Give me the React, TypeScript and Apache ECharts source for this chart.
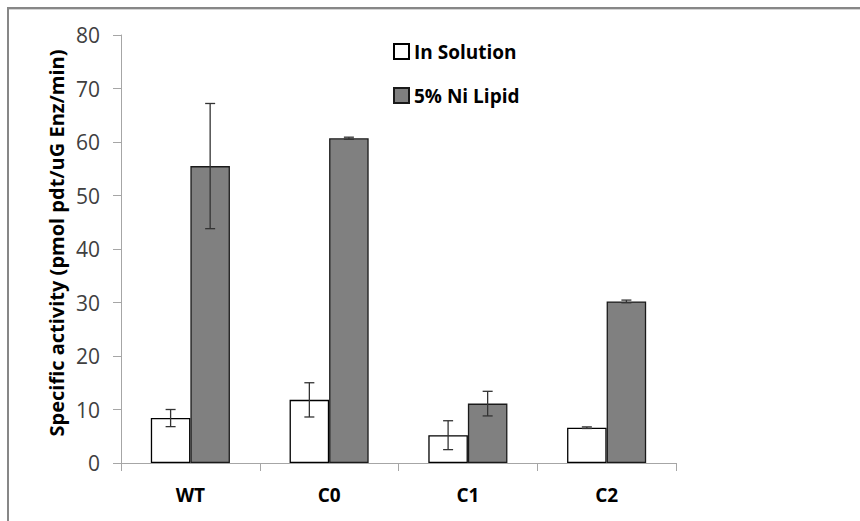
import React, { useEffect, useRef } from "react";
import * as echarts from "echarts";

const categories = ["WT", "C0", "C1", "C2"];
const inSolution = [8.4, 11.8, 5.2, 6.6];
const inSolutionErr = [1.6, 3.2, 2.7, 0.15];
const niLipid = [55.5, 60.7, 11.1, 30.2];
const niLipidErr = [11.7, 0.2, 2.3, 0.25];
const seriesNames = ["In Solution", "5% Ni Lipid"];
const yAxisTitle = "Specific activity (pmol pdt/uG Enz/min)";

const FONT = "'Open Sans', 'Noto Sans', sans-serif";
const CAT_GAP = 0.43;

export default function App() {
  const ref = useRef<HTMLDivElement>(null);
  useEffect(() => {
    if (!ref.current) return;
    const chart = echarts.init(ref.current, undefined, { renderer: "svg" });

    const errData: number[][] = [];
    inSolution.forEach((v, i) => errData.push([i, v, inSolutionErr[i], 0]));
    niLipid.forEach((v, i) => errData.push([i, v, niLipidErr[i], 1]));

    const option: any = {
      animation: false,
      backgroundColor: "#ffffff",
      textStyle: { fontFamily: FONT },
      grid: { left: 121, right: 184, top: 35, bottom: 58, containLabel: false },
      legend: {
        orient: "vertical",
        left: 393,
        top: 42,
        padding: 0,
        itemWidth: 15,
        itemHeight: 15,
        itemGap: 25,
        icon: "rect",
        data: seriesNames,
        textStyle: { fontFamily: FONT, fontWeight: "bold", fontSize: 19, color: "#000" },
      },
      xAxis: {
        type: "category",
        data: categories,
        axisLine: { lineStyle: { color: "#a6a6a6", width: 1 } },
        axisTick: { show: true, length: 8, lineStyle: { color: "#a6a6a6" } },
        axisLabel: { margin: 22, fontFamily: FONT, fontWeight: "bold", fontSize: 19, color: "#000" },
        splitLine: { show: false },
      },
      yAxis: {
        type: "value",
        min: 0,
        max: 80,
        interval: 10,
        axisLine: { show: true, lineStyle: { color: "#a6a6a6", width: 1 } },
        axisTick: { show: true, length: 8, lineStyle: { color: "#a6a6a6" } },
        axisLabel: { margin: 21, fontFamily: FONT, fontSize: 21, color: "#404040" },
        splitLine: { show: false },
      },
      graphic: [
        {
          type: "line",
          shape: { x1: 7, y1: 8, x2: 860, y2: 8 },
          style: { stroke: "#878787", lineWidth: 2 },
        },
        {
          type: "line",
          shape: { x1: 7, y1: 9.5, x2: 860, y2: 9.5 },
          style: { stroke: "#d4d4d4", lineWidth: 1 },
        },
        {
          type: "line",
          shape: { x1: 8, y1: 7, x2: 8, y2: 521 },
          style: { stroke: "#878787", lineWidth: 2 },
        },
        {
          type: "text",
          x: 56,
          y: 243,
          rotation: Math.PI / 2,
          style: {
            text: yAxisTitle,
            fontFamily: FONT,
            fontWeight: "bold",
            fontSize: 20,
            fill: "#000",
            align: "center",
            verticalAlign: "middle",
          },
        },
      ],
      series: [
        {
          name: seriesNames[0],
          type: "bar",
          data: inSolution,
          barGap: "0%",
          barCategoryGap: CAT_GAP * 100 + "%",
          itemStyle: { color: "#ffffff", borderColor: "#000000", borderWidth: 1.3 },
        },
        {
          name: seriesNames[1],
          type: "bar",
          data: niLipid,
          barGap: "0%",
          barCategoryGap: CAT_GAP * 100 + "%",
          itemStyle: { color: "#808080", borderColor: "#1a1a1a", borderWidth: 1.3 },
        },
        {
          type: "custom",
          name: "err",
          silent: true,
          z: 10,
          data: errData,
          renderItem: (params: any, api: any) => {
            const cat = api.value(0);
            const val = api.value(1);
            const err = api.value(2);
            const s = api.value(3);
            const band = api.size([1, 0])[0];
            const bw = (band * (1 - CAT_GAP)) / 2;
            const offset = s === 0 ? -bw / 2 : bw / 2;
            const top = api.coord([cat, val + err]);
            const bot = api.coord([cat, val - err]);
            const x = top[0] + offset;
            const cap = 5;
            const style = { stroke: "#333333", lineWidth: 1.3 };
            return {
              type: "group",
              children: [
                { type: "line", shape: { x1: x, y1: top[1], x2: x, y2: bot[1] }, style },
                { type: "line", shape: { x1: x - cap, y1: top[1], x2: x + cap, y2: top[1] }, style },
                { type: "line", shape: { x1: x - cap, y1: bot[1], x2: x + cap, y2: bot[1] }, style },
              ],
            };
          },
        },
      ],
    };
    chart.setOption(option);
    return () => chart.dispose();
  }, []);
  return (
    <div
      ref={ref}
      style={{ position: "absolute", left: 0, top: 0, width: 860, height: 521 }}
    />
  );
}
